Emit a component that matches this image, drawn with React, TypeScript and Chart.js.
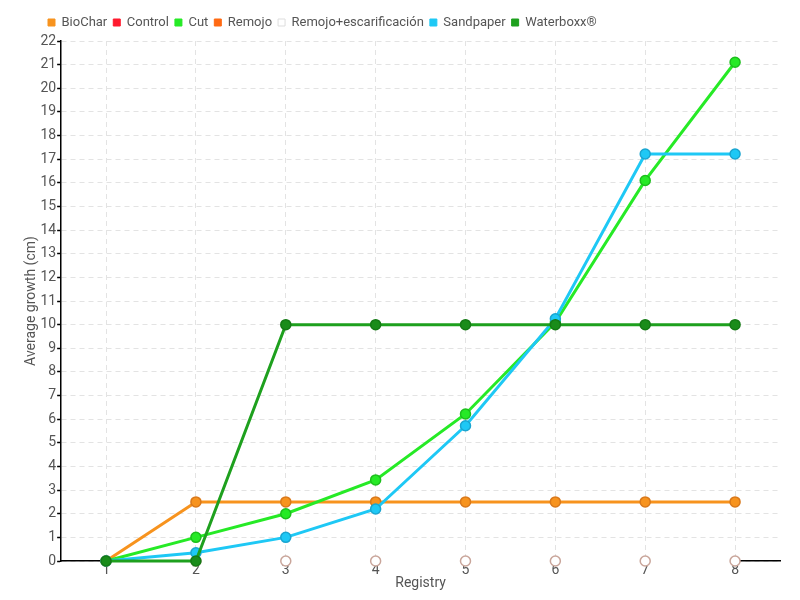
import React, { useEffect, useRef } from "react";
import { Chart, registerables } from "chart.js";

Chart.register(...registerables);

const categories = ["1", "2", "3", "4", "5", "6", "7", "8"];
const bioChar = [0, 2.5, 2.5, 2.5, 2.5, 2.5, 2.5, 2.5];
const control: (number | null)[] = [];
const cut = [0, 1, 2, 3.43, 6.22, 10.1, 16.1, 21.1];
const remojo: (number | null)[] = [];
const remojoEsc = [0, 0, 0, 0, 0, 0, 0, 0];
const sandpaper = [0, 0.35, 1, 2.2, 5.72, 10.25, 17.22, 17.22];
const waterboxx = [0, 0, 10, 10, 10, 10, 10, 10];

const FONT = "Roboto, 'Liberation Sans', sans-serif";

const legendShift = {
  id: "legendShift",
  afterInit(chart: any) {
    const lg = chart.legend;
    if (!lg) return;
    const orig = lg.fit.bind(lg);
    lg.fit = () => {
      orig();
      lg.height += 2;
    };
  },
  afterLayout(chart: any) {
    if (chart.legend) chart.legend.left = 42;
  },
};

export default function App() {
  const ref = useRef<HTMLCanvasElement>(null);
  useEffect(() => {
    document.body.style.margin = "0";
    let idx = 0;
    const ds = (
      label: string,
      data: (number | null)[],
      color: string,
      pointBorder: string,
      extra: any = {}
    ) => ({
      label,
      data,
      borderColor: color,
      backgroundColor: color,
      pointBackgroundColor: color,
      pointBorderColor: pointBorder,
      pointBorderWidth: 1.5,
      pointRadius: 5,
      borderWidth: 3,
      tension: 0,
      order: -idx++,
      clip: false,
      ...extra,
    });
    const chart = new Chart(ref.current!, {
      type: "line",
      plugins: [legendShift],
      data: {
        labels: categories,
        datasets: [
          ds("BioChar", bioChar, "#f7931e", "#d9781a"),
          ds("Control", control, "#ff1a2e", "#d01020"),
          ds("Cut", cut, "#26ea26", "#1cbf1c"),
          ds("Remojo", remojo, "#ff6a13", "#d9561a"),
          ds("Remojo+escarificación", remojoEsc, "#ffffff", "#c9a59a", {
            pointBackgroundColor: "#ffffff",
          }),
          ds("Sandpaper", sandpaper, "#1ec8f5", "#1aa5d0"),
          ds("Waterboxx®", waterboxx, "#1ea01e", "#157a15", {
            pointBackgroundColor: "#1a8c1a",
          }),
        ],
      },
      options: {
        animation: false,
        responsive: false,
        layout: { padding: { left: 24, right: 20, top: 10, bottom: 10 } },
        plugins: {
          tooltip: { enabled: false },
          legend: {
            position: "top",
            align: "start",
            labels: {
              boxWidth: 7,
              boxHeight: 7,
              padding: 6,
              color: "#555",
              font: { family: FONT, size: 13 },
              sort: (a: any, b: any) => a.datasetIndex - b.datasetIndex,
              generateLabels: (c: any) => {
                const items = Chart.defaults.plugins.legend.labels.generateLabels(c);
                items.forEach((it: any) => {
                  it.lineWidth = 1;
                  if (it.datasetIndex === 4) {
                    it.fillStyle = "#ffffff";
                    it.strokeStyle = "#dddddd";
                  } else {
                    it.strokeStyle = it.fillStyle;
                  }
                });
                return items;
              },
            },
          },
        },
        scales: {
          x: {
            offset: true,
            grid: {
              offset: false,
              color: "#e3e3e3",
              lineWidth: 1,
              drawTicks: false,
            },
            border: { color: "#000", width: 1.5, dash: [5, 4] },
            ticks: { color: "#555", font: { family: FONT, size: 14, lineHeight: 1.0 }, padding: 2 },
            title: {
              display: true,
              text: "Registry",
              color: "#555",
              font: { family: FONT, size: 14, lineHeight: 1.0 },
              padding: { top: -3, bottom: 0 },
            },
          },
          y: {
            min: 0,
            max: 22,
            grid: {
              color: "#e3e3e3",
              lineWidth: 1,
              tickColor: "#000",
              tickLength: 4,
              tickBorderDash: [],
              tickWidth: 1.5,
            },
            border: { color: "#000", width: 1.5, dash: [5, 4] },
            ticks: {
              stepSize: 1,
              color: "#555",
              font: { family: FONT, size: 14 },
              padding: 1,
            },
            title: {
              display: true,
              text: "Average growth (cm)",
              color: "#555",
              font: { family: FONT, size: 14, lineHeight: 1.1 },
              padding: { top: 0, bottom: 0 },
            },
          },
        },
      } as any,
    });
    return () => chart.destroy();
  }, []);
  return <canvas ref={ref} width={800} height={600} style={{ display: "block" }} />;
}
